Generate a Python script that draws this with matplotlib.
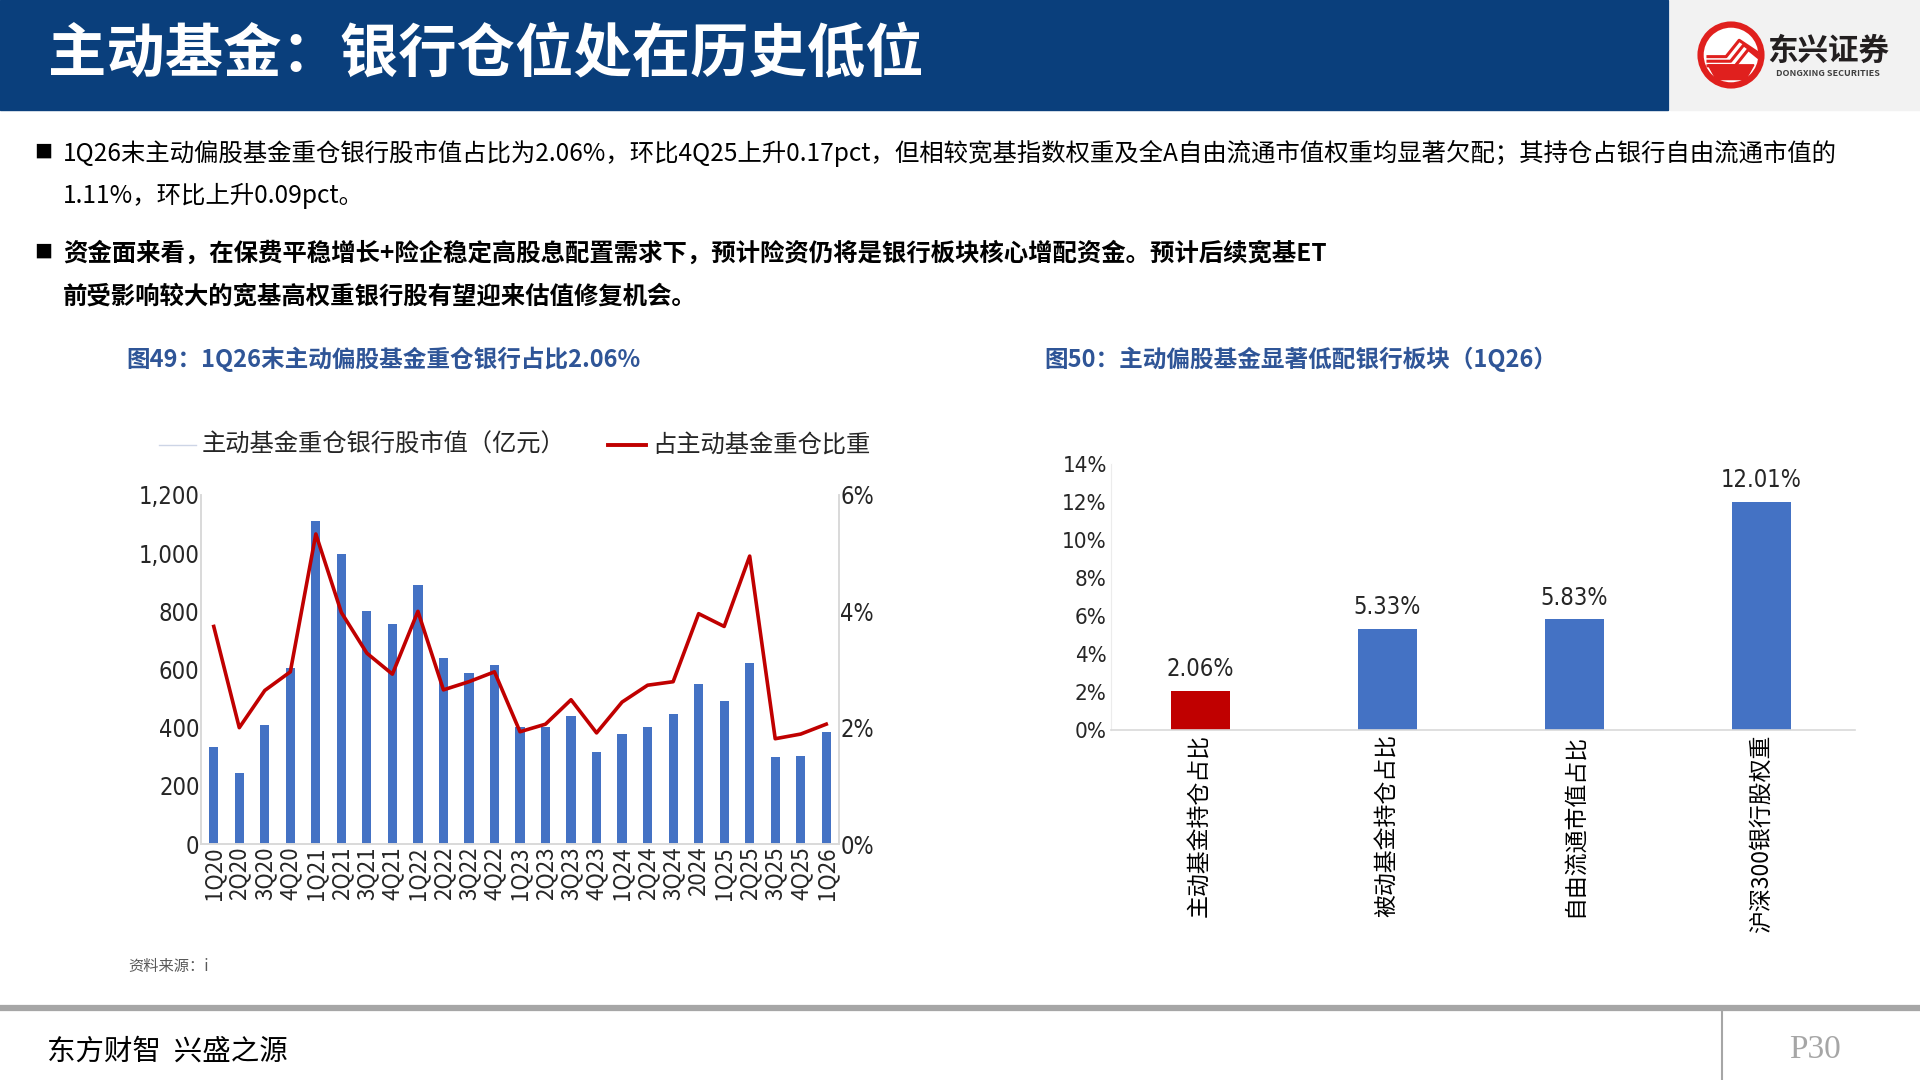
import matplotlib
matplotlib.use('Agg')
import matplotlib.pyplot as plt
from matplotlib import font_manager as fm
from matplotlib.patches import Rectangle, Circle
from matplotlib.lines import Line2D
from matplotlib.ticker import FuncFormatter

# ---- data ----
quarters = ['1Q20', '2Q20', '3Q20', '4Q20', '1Q21', '2Q21', '3Q21', '4Q21',
            '1Q22', '2Q22', '3Q22', '4Q22', '1Q23', '2Q23', '3Q23', '4Q23',
            '1Q24', '2Q24', '3Q24', '2024', '1Q25', '2Q25', '3Q25', '4Q25', '1Q26']
bank_value = [334, 244, 409, 605, 1111, 996, 800, 758, 889, 641, 587, 615,
              403, 403, 440, 316, 378, 401, 446, 549, 493, 624, 298, 303, 385]
bank_ratio = [3.74, 2.00, 2.64, 2.96, 5.33, 3.98, 3.28, 2.92, 4.00, 2.65, 2.79, 2.96,
              1.93, 2.06, 2.48, 1.91, 2.44, 2.73, 2.79, 3.96, 3.74, 4.95, 1.81, 1.89, 2.06]

cmp_labels = ['主动基金持仓占比', '被动基金持仓占比', '自由流通市值占比', '沪深300银行股权重']
cmp_values = [2.06, 5.33, 5.83, 12.01]

BLUE = '#4472c4'
RED = '#c00000'
NAVY = '#0a3f7c'
TITLE_BLUE = '#2f5597'

plt.rcParams['font.family'] = ['Noto Sans CJK SC', 'DejaVu Sans']

names = {f.name for f in fm.fontManager.ttflist}
if 'Liberation Sans Narrow' in names:
    NARROW = dict(family=['Liberation Sans Narrow', 'DejaVu Sans'])
else:
    NARROW = dict(family=['DejaVu Sans'], stretch='condensed')

W, H = 1920, 1080
fig = plt.figure(figsize=(19.2, 10.8), dpi=100)


def fx(x):
    return x / W


def fy(y):
    return 1 - y / H


def ftext(x, y, s, **kw):
    fig.text(fx(x), fy(y), s, **kw)


def narrow(size):
    return fm.FontProperties(size=size, **NARROW)


# ---- header ----
fig.patches.append(Rectangle((0, fy(110)), fx(1668), 110 / H, transform=fig.transFigure,
                             color=NAVY, zorder=0))
fig.patches.append(Rectangle((fx(1670), fy(110)), fx(250), 110 / H, transform=fig.transFigure,
                             color='#f2f2f2', zorder=0))
ftext(48, 55, '主动基金：银行仓位处在历史低位', color='white', fontsize=42,
      fontweight='bold', va='center', ha='left')

# logo
lax = fig.add_axes([fx(1695), fy(91), 72 / W, 72 / H])
lax.set_zorder(5)
lax.set_xlim(-1.1, 1.1)
lax.set_ylim(-1.1, 1.1)
lax.axis('off')
lax.add_patch(Circle((0, 0), 0.93, facecolor='white', edgecolor='#e0201e', lw=4.5))
for off in [0, 0.14, 0.28]:
    lax.plot([-0.75, -0.15 + off, 0.25 + off, 0.85],
             [-0.05 - off, -0.05 - off, 0.45 - off, 0.05 - off * 0.5],
             color='#e0201e', lw=2.2, solid_capstyle='butt')
lax.fill([-0.7, 0.7, 0.45, -0.45], [-0.3, -0.3, -0.75, -0.75], color='#e0201e')
ftext(1828, 51, '东兴证券', fontsize=22, fontweight='bold', color='#231f20',
      ha='center', va='center', zorder=6)
ftext(1828, 74, 'DONGXING SECURITIES', fontsize=6.5, fontweight='bold', color='#404040',
      ha='center', va='center', zorder=6)

# ---- bullets ----
bullets = [
    (153, '1Q26末主动偏股基金重仓银行股市值占比为2.06%，环比4Q25上升0.17pct，但相较宽基指数权重及全A自由流通市值权重均显著欠配；其持仓占银行自由流通市值的', 'normal', True),
    (196, '1.11%，环比上升0.09pct。', 'normal', False),
    (253, '资金面来看，在保费平稳增长+险企稳定高股息配置需求下，预计险资仍将是银行板块核心增配资金。预计后续宽基ET', 'bold', True),
    (296, '前受影响较大的宽基高权重银行股有望迎来估值修复机会。', 'bold', False),
]
for y, s, w, mark in bullets:
    if mark:
        ftext(43, y, '■', fontsize=13, color='black', ha='center', va='center')
    ftext(63, y, s, fontsize=17.6, fontweight=w, color='black', ha='left', va='center')

# ---- chart titles ----
ftext(126, 359, '图49：1Q26末主动偏股基金重仓银行占比2.06%', fontsize=17,
      fontweight='bold', color=TITLE_BLUE, ha='left', va='center')
ftext(1044, 359, '图50：主动偏股基金显著低配银行板块（1Q26）', fontsize=17,
      fontweight='bold', color=TITLE_BLUE, ha='left', va='center')

# ---- left chart ----
ax = fig.add_axes([fx(201), fy(844), 638 / W, 349 / H])
x = list(range(len(quarters)))
ax.bar(x, bank_value, width=0.36, color=BLUE, zorder=2)
ax.set_ylim(0, 1200)
ax.set_xlim(-0.5, len(quarters) - 0.5)
ax.set_yticks(range(0, 1201, 200))
ax.yaxis.set_major_formatter(FuncFormatter(lambda v, p: f'{int(v):,}'))
ax.set_xticks(x)
ax.set_xticklabels(quarters, rotation=90, fontsize=16, color='#262626')
for lab in ax.get_yticklabels():
    lab.set_fontproperties(narrow(17))
    lab.set_color('#262626')
ax.tick_params(length=0, pad=2)
ax.tick_params(axis='y', pad=1)
ax.spines['top'].set_visible(False)
for side in ['left', 'right', 'bottom']:
    ax.spines[side].set_color('#d9d9d9')
    ax.spines[side].set_linewidth(1.2)

ax2 = ax.twinx()
ax2.plot(x, [v / 100 for v in bank_ratio], color=RED, lw=2.6, zorder=3)
ax2.set_ylim(0, 0.06)
ax2.set_yticks([0, 0.02, 0.04, 0.06])
ax2.set_yticklabels(['0%', '2%', '4%', '6%'])
for lab in ax2.get_yticklabels():
    lab.set_fontproperties(narrow(17))
    lab.set_color('#262626')
ax2.tick_params(length=0, pad=1)
ax2.spines['top'].set_visible(False)
for side in ['left', 'right', 'bottom']:
    ax2.spines[side].set_color('#d9d9d9')
    ax2.spines[side].set_linewidth(1.2)

# legend (manual placement)
fig.lines.append(Line2D([fx(159), fx(196)], [fy(445), fy(445)], transform=fig.transFigure,
                        color='#cdd5e6', lw=1))
ftext(202, 445, '主动基金重仓银行股市值（亿元）', fontsize=17.5, color='#262626',
      ha='left', va='center')
fig.lines.append(Line2D([fx(608), fx(646)], [fy(445), fy(445)], transform=fig.transFigure,
                        color=RED, lw=2.8))
ftext(652, 445, '占主动基金重仓比重', fontsize=17.5, color='#262626', ha='left', va='center')

ftext(128, 966, '资料来源：i', fontsize=11, color='#595959', style='italic',
      ha='left', va='center')

# ---- right chart ----
bx = fig.add_axes([fx(1111), fy(730), 744 / W, 266 / H])
xc = list(range(len(cmp_labels)))
colors = [RED] + [BLUE] * (len(cmp_labels) - 1)
bx.bar(xc, cmp_values, width=0.316, color=colors, zorder=2)
bx.set_xlim(-0.476, 3.5)
bx.set_ylim(0, 14)
bx.set_yticks(range(0, 15, 2))
bx.set_yticklabels([f'{v}%' for v in range(0, 15, 2)])
for lab in bx.get_yticklabels():
    lab.set_fontproperties(narrow(16))
    lab.set_color('#262626')
bx.set_xticks(xc)
bx.set_xticklabels(cmp_labels, rotation=90, fontsize=16.5, color='black', va='top')
bx.tick_params(length=0, pad=3)
for side in ['top', 'right']:
    bx.spines[side].set_visible(False)
bx.spines['left'].set_color('#ececec')
bx.spines['bottom'].set_color('#d9d9d9')
bx.spines['bottom'].set_linewidth(1.2)
for xi, v in zip(xc, cmp_values):
    bx.annotate(f'{v:.2f}%', (xi, v), xytext=(0, 7), textcoords='offset points',
                ha='center', va='bottom', color='#262626', fontproperties=narrow(17))

# ---- footer ----
fig.lines.append(Line2D([0, 1], [fy(1008), fy(1008)], transform=fig.transFigure,
                        color='#a6a6a6', lw=4.5))
fig.lines.append(Line2D([fx(1722), fx(1722)], [fy(1011), 0], transform=fig.transFigure,
                        color='#a6a6a6', lw=1.5))
ftext(47, 1052, '东方财智  兴盛之源', fontsize=20.5, color='black', ha='left', va='center')
ftext(1815, 1050, 'P30', fontsize=24, color='#a6a6a6', ha='center', va='center',
      family=['Liberation Serif', 'DejaVu Serif'])

fig.savefig('out.png', dpi=100)
